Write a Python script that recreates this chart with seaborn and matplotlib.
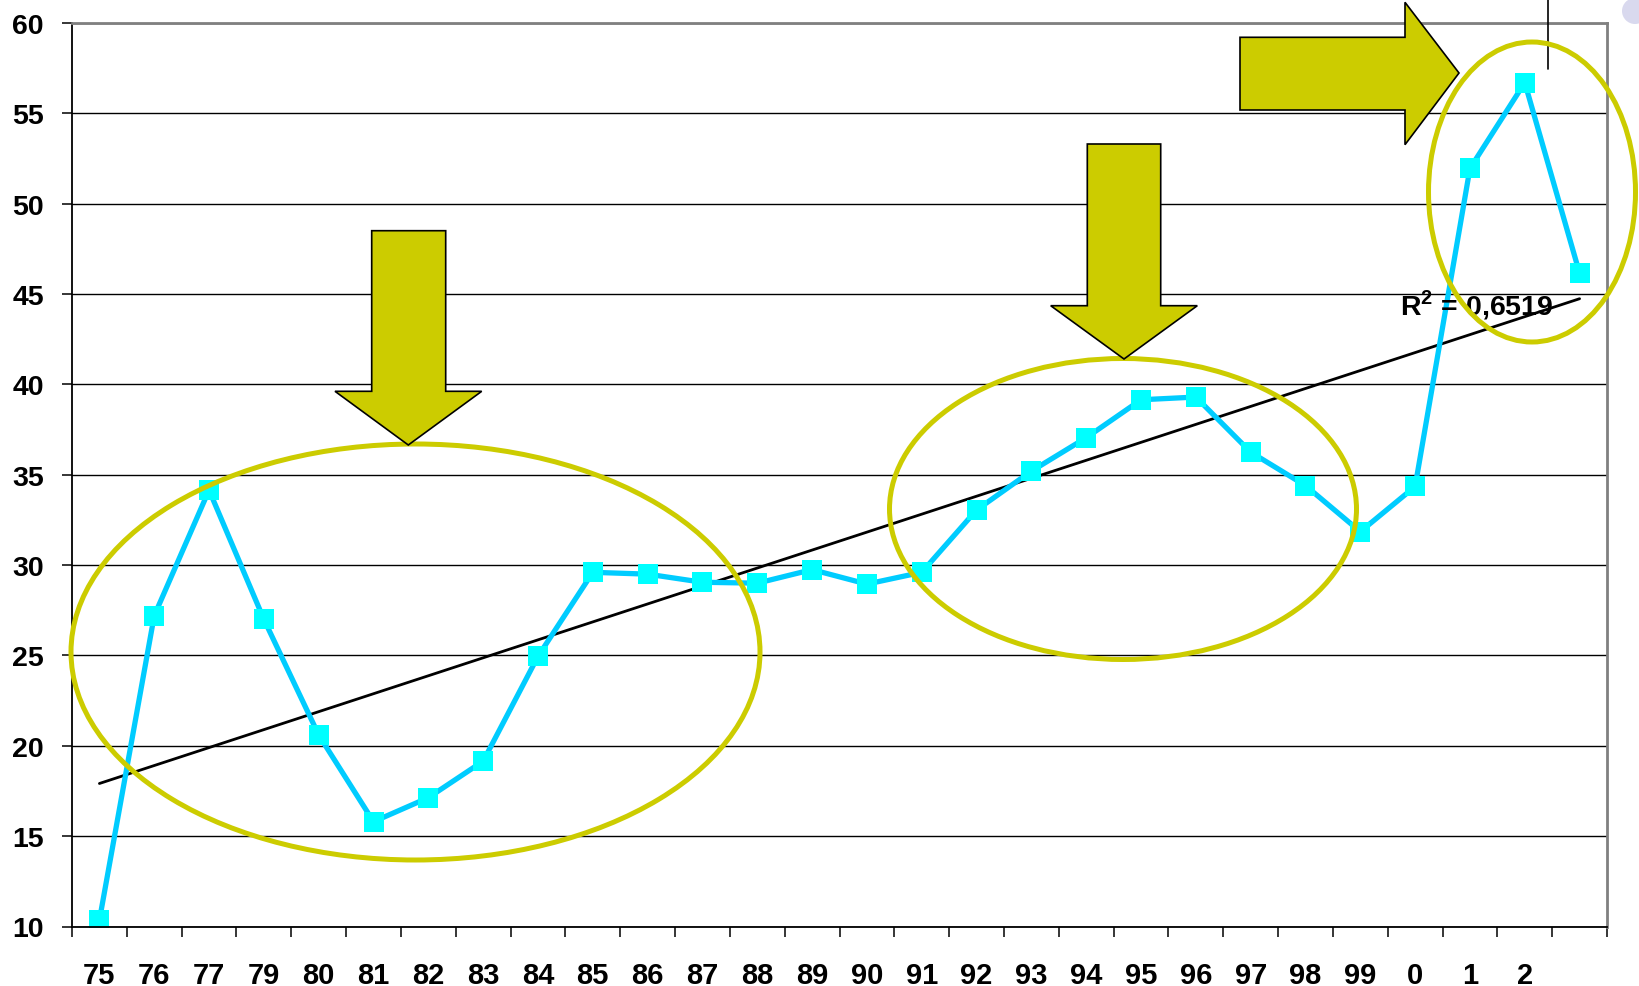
import matplotlib
matplotlib.use("Agg")
import matplotlib.pyplot as plt
from matplotlib.patches import Ellipse, Polygon
from matplotlib.lines import Line2D
import numpy as np
import seaborn as sns

years = ["75", "76", "77", "79", "80", "81", "82", "83", "84", "85", "86", "87", "88", "89",
         "90", "91", "92", "93", "94", "95", "96", "97", "98", "99", "0", "1", "2", ""]
values = [10.35, 27.2, 34.15, 27.0, 20.6, 15.8, 17.13, 19.15, 24.95, 29.6, 29.5, 29.05, 29.0, 29.75,
          28.95, 29.6, 33.05, 35.2, 37.05, 39.15, 39.3, 36.25, 34.4, 31.85, 34.35, 51.95, 56.7, 46.15]
r2_label = r"R$^{\mathbf{2}}$ = 0,6519"

W, H = 1639, 987
OLIVE = "#CCCC00"

sns.set_theme(style="white")
plt.rcParams["font.family"] = ["Liberation Sans", "DejaVu Sans"]
plt.rcParams["mathtext.fontset"] = "custom"
plt.rcParams["mathtext.bf"] = "Liberation Sans:bold"
plt.rcParams["mathtext.rm"] = "Liberation Sans:bold"

fig = plt.figure(figsize=(W / 100, H / 100), dpi=100)
ax = fig.add_axes([72 / W, 1 - 927.5 / H, (1607 - 72) / W, (927.5 - 24) / H])

pos = np.arange(len(years))

# linear trend (black) under the series
sns.regplot(x=pos, y=values, scatter=False, ci=None, truncate=True, color="black",
            line_kws={"lw": 2}, ax=ax)
sns.lineplot(x=pos, y=values, sort=False, ax=ax, color="#00CCFF", lw=3.8,
             marker="s", markersize=14, markerfacecolor="#00FFFF",
             markeredgecolor="#00FFFF", markeredgewidth=0)

ax.set_xlim(-0.5, len(years) - 0.5)
ax.set_ylim(10, 60)
ax.set_yticks(np.arange(10, 61, 5))
ax.set_xticks(pos)
ax.set_xticklabels(years)
ax.set_xticks(np.arange(-0.5, len(years)), minor=True)
ax.set_xlabel("")
ax.set_ylabel("")

ax.tick_params(axis="x", which="major", length=0, pad=24.5, labelsize=21)
ax.tick_params(axis="x", which="minor", length=7.2, width=1.1, color="black", direction="out",
               bottom=True)
ax.tick_params(axis="y", length=7.2, width=1.1, color="black", direction="out", left=True,
               pad=13, labelsize=20.5)
for lab in ax.get_xticklabels() + ax.get_yticklabels():
    lab.set_fontweight("bold")
    lab.set_color("black")

ax.yaxis.grid(True, color="black", lw=1)
ax.xaxis.grid(False)
ax.set_axisbelow(True)
for side in ["left", "bottom"]:
    ax.spines[side].set_color("black")
    ax.spines[side].set_linewidth(1.3)
for side in ["top", "right"]:
    ax.spines[side].set_color("#808080")
    ax.spines[side].set_linewidth(2)


def fpx(x, y):
    return (x / W, 1 - y / H)


# ellipses
for cx, cy, w, h in [(415.5, 653, 689, 416), (1123, 510, 467, 301), (1532, 193, 207, 300)]:
    fig.patches.append(Ellipse(fpx(cx, cy), w / W, h / H, transform=fig.transFigure,
                               fill=False, edgecolor=OLIVE, lw=3.6, zorder=5))

# block arrows
arrows = [
    [(371.7, 231.7), (445.7, 231.7), (445.7, 392.3), (481.7, 392.3), (408.3, 446),
     (335, 392.3), (371.7, 392.3)],
    [(1087.3, 145), (1160.7, 145), (1160.7, 306.7), (1197.3, 306.7), (1124, 360),
     (1050.7, 306.7), (1087.3, 306.7)],
    [(1240, 38.3), (1405, 38.3), (1405, 3.3), (1459, 74), (1405, 145.7), (1405, 111),
     (1240, 111)],
]
for pts in arrows:
    fig.patches.append(Polygon([fpx(x, y) for x, y in pts], closed=True,
                               transform=fig.transFigure, facecolor=OLIVE,
                               edgecolor="black", lw=1.2, zorder=6))

fig.lines.append(Line2D([1547.7 / W] * 2, [1, 1 - 70 / H], transform=fig.transFigure,
                        color="black", lw=1.2))
fig.patches.append(Ellipse(fpx(1635, 12), 26 / W, 26 / H, transform=fig.transFigure,
                           color="#D9D9EE", lw=0))

fig.text(*fpx(1400, 315), r2_label, ha="left", va="baseline", fontsize=20.5,
         fontweight="bold", color="black")

fig.savefig("out.png", dpi=100)
